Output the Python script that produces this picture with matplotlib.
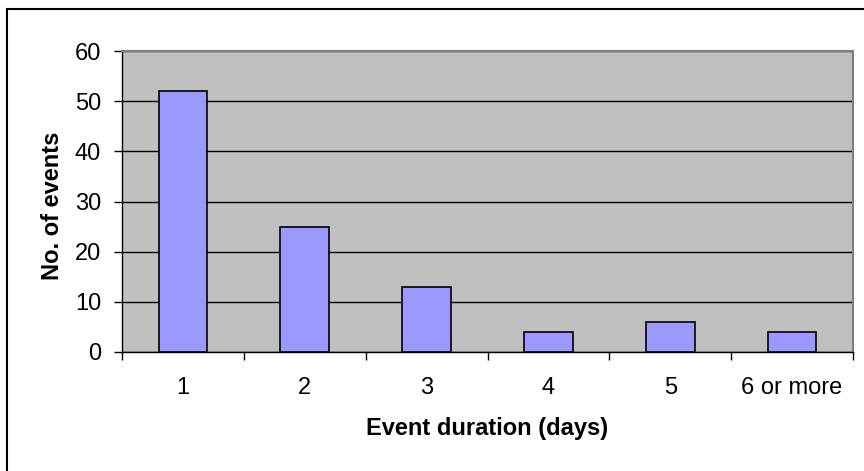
import numpy as np
import matplotlib
matplotlib.use('Agg')
import matplotlib.pyplot as plt
from matplotlib.patches import Rectangle

plt.rcParams['font.family'] = ['Liberation Sans', 'DejaVu Sans']

durations = ['1', '2', '3', '4', '5', '6 or more']
events = [52, 25, 13, 4, 6, 4]
y_ticks = [0, 10, 20, 30, 40, 50, 60]

bar_color = '#9999FF'
plot_bg = '#C0C0C0'
fs = 17

W, H = 864, 471
fig = plt.figure(figsize=(W/100, H/100), dpi=100)
fig.patch.set_facecolor('white')

# plot area in pixels: x 122..853, y 51..352
ax = fig.add_axes([122/W, 1 - 352/H, (853-122)/W, (352-51)/H])
ax.set_facecolor(plot_bg)

x = np.arange(len(durations))
ax.bar(x, events, width=0.40, color=bar_color, edgecolor='black', linewidth=1.2, zorder=3)

ax.set_xlim(-0.5, len(durations) - 0.5)
ax.set_ylim(0, 60)
ax.set_yticks(y_ticks)
ax.yaxis.grid(True, color='black', linewidth=1.0, zorder=1)
ax.set_axisbelow(True)

# category labels at centres, tick marks on boundaries
ax.set_xticks(x)
ax.set_xticklabels(durations, fontsize=fs)
ax.set_xticks(np.arange(len(durations) + 1) - 0.5, minor=True)
ax.tick_params(axis='x', which='major', length=0, pad=18)
ax.tick_params(axis='x', which='minor', length=6, width=1, direction='out', color='black')
ax.tick_params(axis='y', length=6, width=1, direction='out', pad=9, labelsize=fs)

for s in ['top', 'right']:
    ax.spines[s].set_color('#808080')
    ax.spines[s].set_linewidth(1.5)
for s in ['left', 'bottom']:
    ax.spines[s].set_color('black')
    ax.spines[s].set_linewidth(1.0)

ax.set_xlabel('Event duration (days)', fontsize=fs, fontweight='bold', va='center')
ax.xaxis.set_label_coords(0.5, -(428-352)/(352-51))
ax.set_ylabel('No. of events', fontsize=fs, fontweight='bold', va='center')
ax.yaxis.set_label_coords(-(122-53)/(853-122), 0.485)

# chart border (runs off the right and bottom edges)
fig.patches.append(Rectangle((7/W, -0.05), 1.1, 1 - 9/H + 0.05, transform=fig.transFigure,
                             fill=False, edgecolor='black', linewidth=1.5, clip_on=False))

fig.savefig('out.png', dpi=100)
